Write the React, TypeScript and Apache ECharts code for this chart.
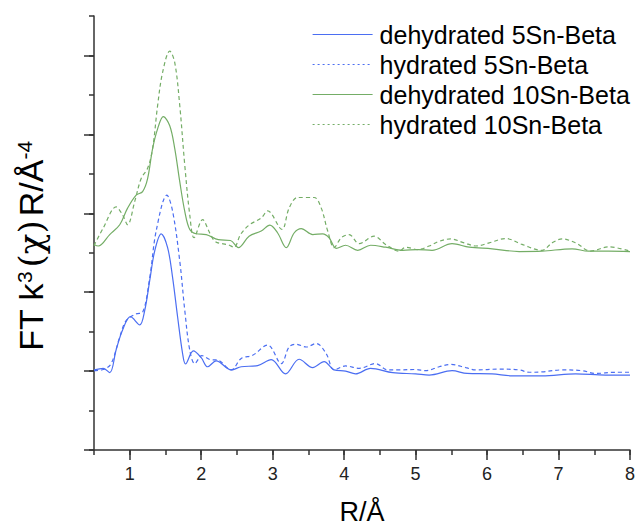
import React, { useEffect, useRef } from "react";
import * as echarts from "echarts";

// R (Å) positions and FT magnitudes (arbitrary units, offset curves)
const R_DEHY5 = [0.5, 0.63, 0.72, 0.81, 0.9, 1.01, 1.14, 1.21, 1.28, 1.35, 1.44, 1.53, 1.6, 1.67, 1.74, 1.78, 1.89, 2.0, 2.09, 2.21, 2.42, 2.56, 2.79, 2.98, 3.18, 3.37, 3.56, 3.72, 3.86, 4.02, 4.16, 4.37, 4.68, 5.0, 5.19, 5.51, 5.72, 6.07, 6.35, 6.77, 7.24, 7.66, 8.0];
const V_DEHY5 = [2.03, 2.07, 1.96, 2.54, 3.04, 3.38, 3.17, 3.54, 4.3, 5.05, 5.48, 5.13, 4.37, 3.37, 2.44, 2.18, 2.51, 2.34, 2.11, 2.26, 2.03, 2.11, 2.14, 2.29, 1.93, 2.3, 2.09, 2.24, 2.03, 2.0, 1.93, 2.07, 1.96, 1.93, 1.9, 2.01, 1.94, 1.93, 1.88, 1.88, 1.93, 1.9, 1.9];

const R_HYD5 = [0.5, 0.63, 0.74, 0.86, 0.95, 1.09, 1.18, 1.28, 1.37, 1.52, 1.6, 1.7, 1.77, 1.84, 1.91, 2.01, 2.13, 2.23, 2.42, 2.56, 2.72, 2.93, 3.12, 3.23, 3.33, 3.47, 3.61, 3.75, 3.86, 4.02, 4.21, 4.44, 4.61, 4.77, 5.0, 5.14, 5.33, 5.49, 5.7, 5.84, 6.17, 6.45, 6.59, 6.77, 7.05, 7.33, 7.52, 7.8, 8.0];
const V_HYD5 = [2.01, 2.04, 2.19, 2.86, 3.28, 3.45, 3.49, 4.37, 5.55, 6.46, 6.05, 4.79, 3.54, 2.53, 2.19, 2.39, 2.29, 2.28, 2.03, 2.32, 2.4, 2.66, 2.19, 2.61, 2.68, 2.61, 2.7, 2.44, 2.03, 2.13, 2.07, 2.19, 2.03, 2.03, 2.04, 2.01, 2.11, 2.17, 2.09, 2.03, 2.05, 2.03, 1.97, 1.98, 2.03, 2.01, 1.94, 1.97, 1.97];

const R_DEHY10 = [0.5, 0.56, 0.72, 0.86, 0.97, 1.09, 1.18, 1.25, 1.32, 1.39, 1.47, 1.56, 1.63, 1.7, 1.77, 1.84, 1.93, 2.07, 2.24, 2.41, 2.52, 2.67, 2.84, 2.96, 3.07, 3.19, 3.3, 3.4, 3.56, 3.7, 3.79, 3.89, 4.02, 4.19, 4.37, 4.58, 4.82, 5.03, 5.23, 5.51, 5.75, 6.07, 6.45, 6.77, 7.19, 7.42, 7.7, 8.0];
const V_DEHY10 = [5.21, 5.17, 5.46, 5.71, 6.13, 6.46, 6.55, 6.88, 7.64, 8.14, 8.45, 8.22, 7.64, 6.8, 6.05, 5.59, 5.48, 5.46, 5.33, 5.31, 5.13, 5.42, 5.55, 5.7, 5.5, 5.13, 5.5, 5.61, 5.46, 5.48, 5.38, 5.11, 5.19, 5.06, 5.19, 5.14, 5.06, 5.08, 5.06, 5.23, 5.14, 5.1, 5.03, 5.04, 5.1, 5.04, 5.04, 5.03];

const R_HYD10 = [0.5, 0.63, 0.81, 0.9, 0.97, 1.07, 1.16, 1.25, 1.32, 1.39, 1.46, 1.56, 1.63, 1.7, 1.77, 1.84, 1.9, 2.02, 2.12, 2.2, 2.38, 2.46, 2.55, 2.67, 2.84, 2.93, 3.13, 3.23, 3.35, 3.58, 3.68, 3.77, 3.86, 3.96, 4.07, 4.21, 4.42, 4.58, 4.77, 4.86, 5.03, 5.19, 5.33, 5.49, 5.68, 5.84, 6.03, 6.26, 6.49, 6.77, 6.91, 7.05, 7.24, 7.45, 7.7, 8.0];
const V_HYD10 = [5.18, 5.63, 6.16, 5.96, 5.71, 6.3, 6.88, 7.14, 7.64, 8.73, 9.57, 10.11, 9.82, 8.73, 7.22, 5.96, 5.38, 5.84, 5.5, 5.28, 5.2, 5.14, 5.46, 5.7, 5.88, 6.06, 5.59, 6.13, 6.4, 6.4, 6.13, 5.55, 5.13, 5.38, 5.46, 5.23, 5.42, 5.21, 5.04, 5.14, 5.08, 5.17, 5.29, 5.35, 5.25, 5.17, 5.25, 5.36, 5.21, 5.06, 5.25, 5.35, 5.25, 5.04, 5.15, 5.04];

const X_LABELS = [1, 2, 3, 4, 5, 6, 7, 8];
const Y_MAJOR = [0, 2, 4, 6, 8, 10];

const NAMES = ["dehydrated 5Sn-Beta", "hydrated 5Sn-Beta", "dehydrated 10Sn-Beta", "hydrated 10Sn-Beta"];

const BLUE = "#4b6ef2";
const GREEN = "#74ad66";
const AXIS = "#333333";
const FONT = "'Liberation Sans', Arial, sans-serif";

const pairs = (xs: number[], ys: number[]) => xs.map((x, i) => [x, ys[i]]);

export default function App() {
  const ref = useRef<HTMLDivElement>(null);
  useEffect(() => {
    if (!ref.current) return;
    const chart = echarts.init(ref.current, undefined, { renderer: "svg" });
    const mk = (name: string, xs: number[], ys: number[], color: string, dashed: boolean) => ({
      name,
      type: "line",
      xAxisIndex: 0,
      yAxisIndex: 0,
      data: pairs(xs, ys),
      smooth: 0.35,
      symbol: "none",
      lineStyle: { color, width: 1.2, type: dashed ? [4, 3] : "solid" },
      itemStyle: { color },
    });
    const legendItem = (name: string, color: string, dashed: boolean) => ({
      name,
      itemStyle: { opacity: 0 },
      lineStyle: { color, width: 1.2, type: dashed ? [2, 3] : "solid" },
    });
    chart.setOption({
      animation: false,
      backgroundColor: "#ffffff",
      grid: { left: 94, right: 7, top: 16, bottom: 76 },
      legend: {
        show: true,
        orient: "vertical",
        left: 312,
        top: 22,
        padding: 0,
        itemWidth: 60,
        itemHeight: 12,
        itemGap: 5,
        selectedMode: false,
        itemStyle: { opacity: 0 },
        textStyle: { fontSize: 25, fontFamily: FONT, color: "#000", padding: [0, 0, 0, 2] },
        data: [
          legendItem(NAMES[0], BLUE, false),
          legendItem(NAMES[1], BLUE, true),
          legendItem(NAMES[2], GREEN, false),
          legendItem(NAMES[3], GREEN, true),
        ],
      },
      xAxis: [
        {
          type: "value",
          position: "bottom",
          min: 0.5,
          max: 8,
          interval: 0.5,
          axisLine: { show: true, lineStyle: { color: AXIS, width: 1.5 } },
          axisTick: { show: true, inside: false, length: 5, lineStyle: { color: AXIS, width: 1.5 } },
          axisLabel: { show: false },
          splitLine: { show: false },
          name: "R/Å",
          nameLocation: "middle",
          nameGap: 48,
          nameTextStyle: { fontSize: 27, fontFamily: FONT, color: "#000" },
        },
        {
          type: "value",
          position: "bottom",
          min: 0.5,
          max: 8,
          axisLine: { show: false },
          axisTick: { show: true, length: 10, customValues: X_LABELS, lineStyle: { color: AXIS, width: 1.5 } },
          axisLabel: {
            show: true,
            customValues: X_LABELS,
            margin: 15,
            fontSize: 18,
            fontFamily: FONT,
            color: "#222",
          },
          splitLine: { show: false },
        },
      ],
      yAxis: [
        {
          type: "value",
          position: "left",
          min: 0,
          max: 11,
          interval: 1,
          axisLine: { show: true, lineStyle: { color: AXIS, width: 1.5 } },
          axisTick: { show: true, length: 5, lineStyle: { color: AXIS, width: 1.5 } },
          axisLabel: { show: false },
          splitLine: { show: false },
          name: "{a|FT k}{s|3}{c|(χ)}{a|R/Å}{s|-4}",
          nameLocation: "middle",
          nameRotate: 90,
          nameGap: 46,
          nameTextStyle: {
            fontFamily: FONT,
            color: "#000",
            padding: [0, 26, 0, 0],
            rich: {
              a: { fontSize: 34, fontFamily: FONT, color: "#000" },
              c: { fontSize: 34, fontFamily: "'DejaVu Serif', serif", color: "#000", padding: [0, 4, 0, 4] },
              s: { fontSize: 21, fontFamily: FONT, color: "#000", verticalAlign: "top" },
            },
          },
        },
        {
          type: "value",
          position: "left",
          min: 0,
          max: 11,
          axisLine: { show: false },
          axisTick: { show: true, length: 10, customValues: Y_MAJOR, lineStyle: { color: AXIS, width: 1.5 } },
          axisLabel: { show: false },
          splitLine: { show: false },
        },
      ],
      series: [
        mk(NAMES[0], R_DEHY5, V_DEHY5, BLUE, false),
        mk(NAMES[1], R_HYD5, V_HYD5, BLUE, true),
        mk(NAMES[2], R_DEHY10, V_DEHY10, GREEN, false),
        mk(NAMES[3], R_HYD10, V_HYD10, GREEN, true),
      ],
    });
    return () => chart.dispose();
  }, []);
  return <div ref={ref} style={{ width: 638, height: 530, position: "absolute", left: 0, top: 0 }} />;
}
